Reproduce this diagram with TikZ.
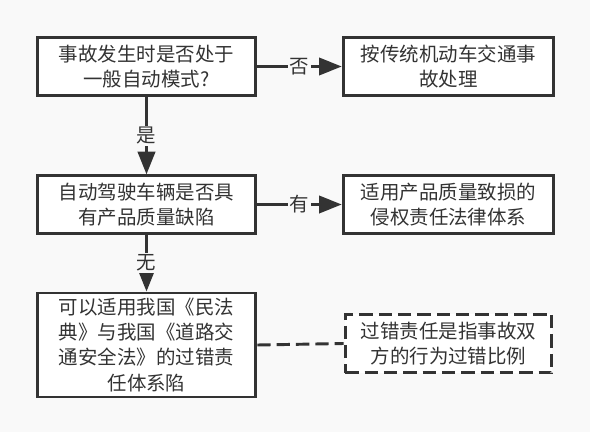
\documentclass[tikz,border=0pt]{standalone}
\usepackage{fontspec}
\setmainfont{Noto Sans CJK SC}
\usetikzlibrary{arrows.meta}
\definecolor{ink}{HTML}{333333}
\definecolor{paper}{HTML}{F9F9F9}
\tikzset{
  box/.style={draw=ink, line width=2.2pt, fill=white, text=ink, align=center,
    font=\fontsize{14.6}{18.8}\selectfont, inner sep=0pt},
  flow/.style={draw=ink, line width=2.2pt, -{Triangle[length=17pt,width=13pt]}},
  tag/.style={fill=paper, text=ink, font=\fontsize{14.6}{16}\selectfont, inner sep=1pt}
}
\begin{document}
\begin{tikzpicture}[x=0.75pt, y=-0.75pt]
  % Canvas
  \fill[paper] (0,0) rectangle (590,432);
  \useasboundingbox (0,0) rectangle (590,432);

  % Left column
  \node[box, minimum width=164pt, minimum height=44pt] (Q1) at (146.5,66.5)
    {事故发生时是否处于\\一般自动模式?};
  \node[box, minimum width=164pt, minimum height=43pt] (Q2) at (146.5,204.5)
    {自动驾驶车辆是否具\\有产品质量缺陷};
  \node[box, minimum width=164pt, minimum height=78pt] (R3) at (146.5,345)
    {可以适用我国《民法\\典》与我国《道路交\\通安全法》的过错责\\任体系陷};

  % Right column
  \node[box, minimum width=158pt, minimum height=44pt] (R1) at (448.5,66.5)
    {按传统机动车交通事\\故处理};
  \node[box, minimum width=158pt, minimum height=43pt] (R2) at (448.5,204.5)
    {适用产品质量致损的\\侵权责任法律体系};
  \node[box, dash pattern=on 10pt off 4.5pt, minimum width=155pt, minimum height=44pt] (N3) at (448.5,343.5)
    {过错责任是指事故双\\方的行为过错比例};

  % Connectors
  \draw[flow] (Q1) -- (R1) node[tag, midway] {否};
  \draw[flow] (Q1) -- (Q2) node[tag, midway] {是};
  \draw[flow] (Q2) -- (R2) node[tag, midway] {有};
  \draw[flow] (Q2) -- (R3) node[tag, midway] {无};
  \draw[draw=ink, line width=2.2pt, dash pattern=on 10pt off 4.5pt] (R3.east) -- (N3.west);
\end{tikzpicture}
\end{document}
